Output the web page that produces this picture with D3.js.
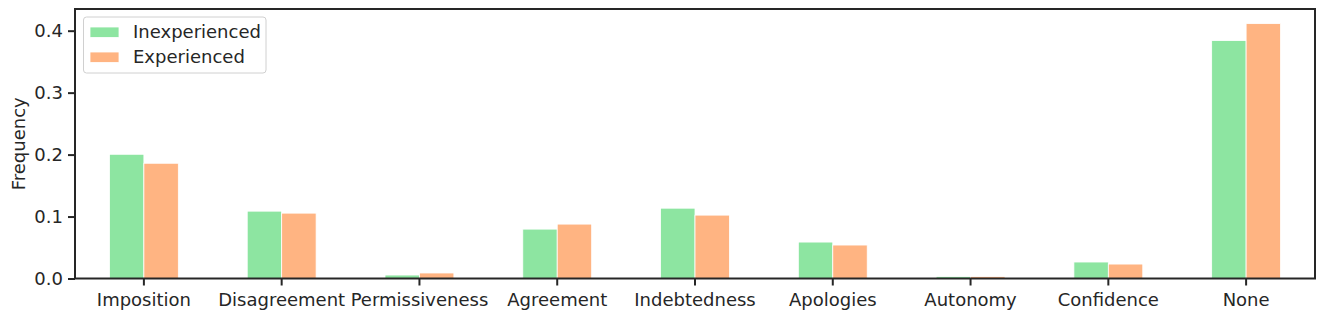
<!DOCTYPE html>
<html>
<head>
<meta charset="utf-8">
<script src="https://cdn.jsdelivr.net/npm/d3@7"></script>
<style>
  body { margin: 0; background: #fff; }
  svg text { font-family: "DejaVu Sans", sans-serif; fill: #262626; }
</style>
</head>
<body>
<div id="chart"></div>
<script>
// categories and the two series
const categories = ["Imposition", "Disagreement", "Permissiveness", "Agreement", "Indebtedness",
  "Apologies", "Autonomy", "Confidence", "None"];
const inexperienced = [0.2005, 0.1087, 0.0056, 0.0797, 0.1135, 0.0588, 0.0032, 0.0266, 0.384];
const experienced = [0.186, 0.1055, 0.0089, 0.0878, 0.1023, 0.054, 0.0032, 0.0233, 0.4114];
const yTicks = [0.0, 0.1, 0.2, 0.3, 0.4];
const seriesNames = ["Inexperienced", "Experienced"];
const seriesColors = ["#8de5a1", "#ffb482"];

const width = 1325, height = 320;
const margin = { top: 9, right: 10, bottom: 41.5, left: 75 };
const fontSize = 18;
const ink = "#262626";

const svg = d3.select("#chart").append("svg")
  .attr("width", width)
  .attr("height", height);

const x = d3.scaleBand()
  .domain(categories)
  .range([margin.left, width - margin.right])
  .padding(0);

const y = d3.scaleLinear()
  .domain([0, 0.435])
  .range([height - margin.bottom, margin.top]);

const barW = x.bandwidth() * 0.25;

// bars
const series = [inexperienced, experienced];
series.forEach((vals, s) => {
  svg.append("g").selectAll("rect")
    .data(vals)
    .enter()
    .append("rect")
    .attr("x", (d, i) => x(categories[i]) + x.bandwidth() / 2 + (s - 1) * barW)
    .attr("y", (d) => y(d))
    .attr("width", barW)
    .attr("height", (d) => y(0) - y(d))
    .attr("fill", seriesColors[s])
    .attr("stroke", "#fff")
    .attr("stroke-width", 0.8);
});

// axes
const xAxis = svg.append("g")
  .attr("transform", `translate(0,${height - margin.bottom})`)
  .call(d3.axisBottom(x).tickSize(7).tickPadding(7.5));

const yAxis = svg.append("g")
  .attr("transform", `translate(${margin.left},0)`)
  .call(d3.axisLeft(y).tickValues(yTicks).tickFormat(d3.format(".1f")).tickSize(7).tickPadding(5));

[xAxis, yAxis].forEach((g) => {
  g.select(".domain").remove();
  g.selectAll(".tick line").attr("stroke", ink).attr("stroke-width", 2);
  g.selectAll(".tick text")
    .attr("font-size", fontSize)
    .attr("font-family", "DejaVu Sans")
    .attr("fill", ink);
});

// frame
svg.append("rect")
  .attr("x", margin.left)
  .attr("y", margin.top)
  .attr("width", width - margin.left - margin.right)
  .attr("height", height - margin.top - margin.bottom)
  .attr("fill", "none")
  .attr("stroke", ink)
  .attr("stroke-width", 2);

// y label
svg.append("text")
  .attr("transform", `translate(25,${(margin.top + height - margin.bottom) / 2}) rotate(-90)`)
  .attr("text-anchor", "middle")
  .attr("font-size", fontSize)
  .text("Frequency");

// legend
const legend = svg.append("g").attr("transform", "translate(83.5,17)");
legend.append("rect")
  .attr("width", 182.5)
  .attr("height", 56)
  .attr("rx", 3)
  .attr("fill", "#fff")
  .attr("fill-opacity", 0.8)
  .attr("stroke", "#d0d0d0")
  .attr("stroke-width", 1);

seriesNames.forEach((name, i) => {
  const row = legend.append("g").attr("transform", `translate(0,${15 + i * 25})`);
  row.append("rect")
    .attr("x", 6.5)
    .attr("y", -5)
    .attr("width", 29)
    .attr("height", 10.5)
    .attr("fill", seriesColors[i])
    .attr("stroke", "#fff")
    .attr("stroke-width", 0.8);
  row.append("text")
    .attr("x", 49.5)
    .attr("y", 0)
    .attr("dy", "0.35em")
    .attr("font-size", fontSize)
    .text(name);
});
</script>
</body>
</html>
